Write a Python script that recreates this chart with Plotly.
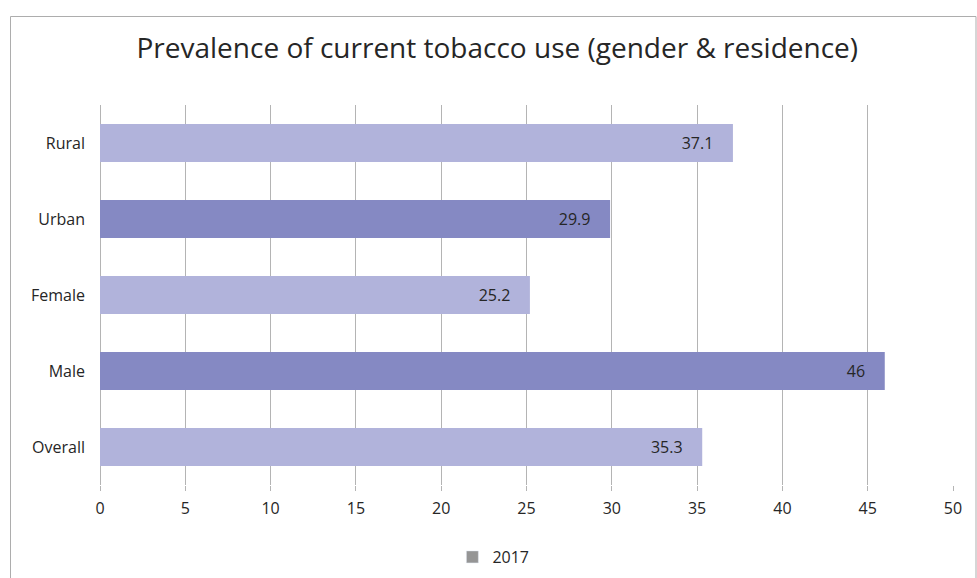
import plotly.graph_objects as go

categories = ["Overall", "Male", "Female", "Urban", "Rural"]
values = [35.3, 46, 25.2, 29.9, 37.1]
bar_colors = ["#B1B3DB", "#8589C3", "#B1B3DB", "#8589C3", "#B1B3DB"]
series_name = "2017"
x_ticks = [0, 5, 10, 15, 20, 25, 30, 35, 40, 45, 50]

FONT = "Open Sans"
GRID = "#B4B4B4"
TXT = "#262626"

fig = go.Figure()
fig.add_trace(go.Bar(
    y=categories, x=values, orientation="h",
    marker=dict(color=bar_colors, line=dict(width=0)),
    width=0.5,
    text=[f"{v:g}" for v in values],
    texttemplate="%{text}\u00a0\u00a0\u00a0\u00a0",
    textposition="inside", insidetextanchor="end", textangle=0,
    constraintext="none",
    textfont=dict(family=FONT, size=16, color=TXT),
    showlegend=False, hoverinfo="skip",
))
fig.add_trace(go.Bar(
    y=[None], x=[None], orientation="h", name=series_name,
    marker=dict(color="#959595"), showlegend=True,
))

fig.update_layout(
    width=977, height=578,
    margin=dict(l=100, r=24, t=105, b=93),
    paper_bgcolor="white", plot_bgcolor="white",
    font=dict(family=FONT, size=16, color=TXT),
    title=dict(text="Prevalence of current tobacco use (gender &amp; residence)",
               font=dict(family=FONT, size=28, color=TXT),
               x=0.509, xref="container", xanchor="center",
               y=1 - 48 / 578, yref="container", yanchor="middle"),
    xaxis=dict(range=[0, 50], tickvals=x_ticks, showgrid=True, gridcolor=GRID,
               gridwidth=1, zeroline=True, zerolinecolor=GRID, zerolinewidth=1,
               showline=False,
               ticks="outside", ticklen=5, tickcolor=GRID, ticklabelstandoff=4,
               tickfont=dict(family=FONT, size=16, color=TXT)),
    yaxis=dict(categoryorder="array", categoryarray=categories,
               showgrid=False, zeroline=False, showline=False,
               ticks="", ticklabelstandoff=14,
               tickfont=dict(family=FONT, size=16, color=TXT)),
    legend=dict(orientation="h", xref="container", yref="container",
                x=0.505, xanchor="center", y=1 - 557 / 578, yanchor="middle",
                font=dict(family=FONT, size=16, color=TXT),
                itemwidth=30),
    bargap=0.5,
    shapes=[dict(type="rect", xref="paper", yref="paper",
                 x0=(10.5 - 100) / 853, x1=(976 - 100) / 853,
                 y0=-0.4, y1=(485 - 16.5) / 380,
                 line=dict(color="#ADADAD", width=1), layer="below")],
)

fig.write_html("out.html")
